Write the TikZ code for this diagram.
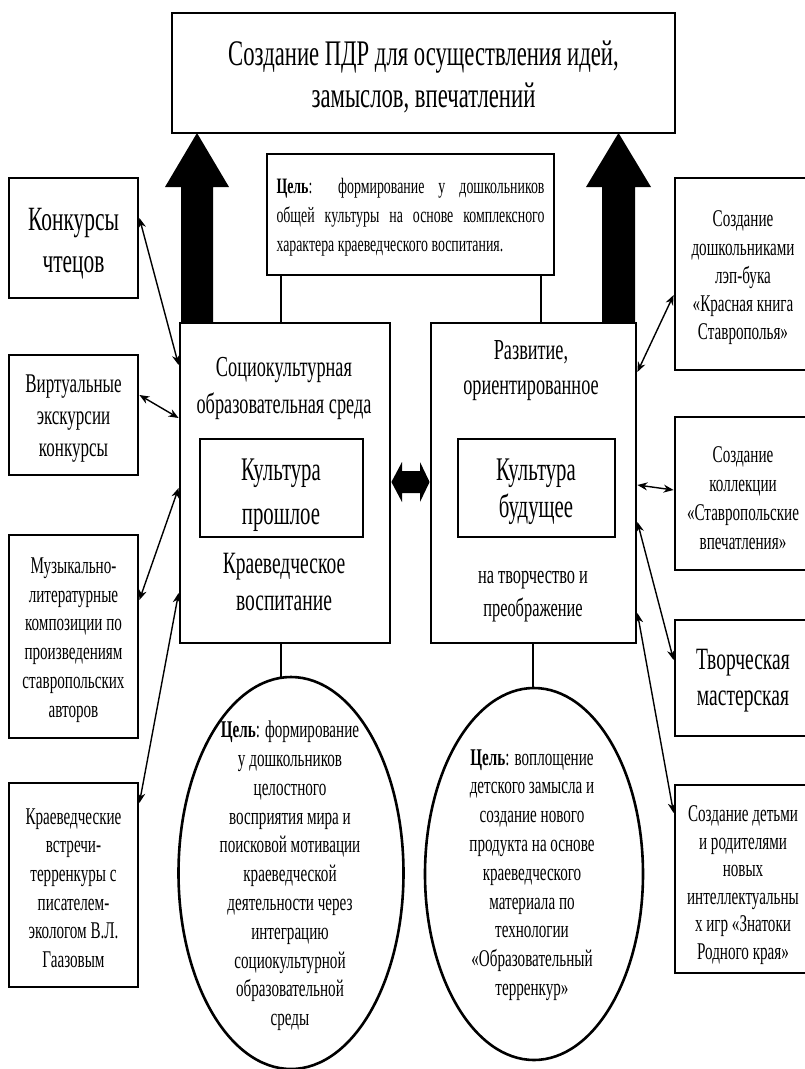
\documentclass[tikz,border=0pt]{standalone}
\usepackage{fontspec}
\setmainfont{Liberation Serif}[FakeStretch=0.63]
\usetikzlibrary{arrows.meta,calc,shapes.geometric}
\begin{document}
\begin{tikzpicture}[x=1pt,y=-1pt,
  box/.style={draw, line width=2.8pt, rectangle, inner sep=0pt},
  oval/.style={draw, line width=2.6pt, ellipse, inner sep=0pt},
  txt/.style={align=center, inner sep=0pt},
  small/.style={txt, font=\fontsize{24}{28.8}\selectfont},
  conn/.style={line width=1.4pt, {Stealth[length=10pt,width=8pt]}-{Stealth[length=10pt,width=8pt]}},
  link/.style={line width=2pt},
  block/.style={fill=black}]
\useasboundingbox (0,0) rectangle (805,1069);
\clip (0,0) rectangle (805,1069);

% title
\node[box, minimum width=503pt, minimum height=120pt] (title) at (423.5,73) {};
\node[txt, font=\fontsize{36}{42}\selectfont] (titlet) at (423.5,77) {Создание ПДР для осуществления идей,\\замыслов, впечатлений};

% goal box
\node[box, minimum width=287pt, minimum height=121pt] (goal) at (410.5,214.5) {};
\node[txt, align=left, font=\fontsize{22}{29}\selectfont] (goalt) at (410.5,217) {\makebox[268pt][s]{\textbf{Цель}: формирование у дошкольников}\\\makebox[268pt][s]{общей культуры на основе комплексного}\\характера краеведческого воспитания.};

% main boxes
\node[box, minimum width=210pt, minimum height=320pt] (left) at (285,483) {};
\node[box, minimum width=205pt, minimum height=320pt] (right) at (533.5,483) {};
\node[box, minimum width=163pt, minimum height=98pt] (lin) at (281.5,488) {};
\node[box, minimum width=157pt, minimum height=98pt] (rin) at (536.5,488) {};

\node[txt, font=\fontsize{29}{37}\selectfont] (lt1) at (284,388.5) {Социокультурная\\образовательная среда};
\node[txt, font=\fontsize{33}{44}\selectfont] (lt2) at (281,495) {Культура\\прошлое};
\node[txt, font=\fontsize{31}{37}\selectfont] (lt3) at (284,581.5) {Краеведческое\\воспитание};
\node[txt, font=\fontsize{29}{35}\selectfont] (rt1) at (531,370.5) {Развитие,\\ориентированное};
\node[txt, font=\fontsize{33}{37}\selectfont] (rt2) at (536,491.5) {Культура\\будущее};
\node[txt, font=\fontsize{26}{33}\selectfont] (rt3) at (533,596.5) {на творчество и\\преображение};

% big arrows
\fill[block] (181,323) -- (181,187) -- (165,187) -- (197,133) -- (229,187) -- (213,187) -- (213,323) -- cycle;
\fill[block] (602,323) -- (602,187) -- (586,187) -- (618.5,133) -- (651,187) -- (635,187) -- (635,323) -- cycle;

% double arrow between main boxes
\fill[block] (left.east |- 0,482) -- (402,462) -- (402,471) -- (420,471) -- (420,462) -- (right.west |- 0,482) -- (420,502) -- (420,493) -- (402,493) -- (402,502) -- cycle;

% goal links
\coordinate (g1) at (281,275);
\coordinate (g2) at (541,275);
\draw[link] (g1) -- (g1 |- left.north);
\draw[link] (g2) -- (g2 |- right.north);

% left side boxes
\node[box, minimum width=129pt, minimum height=120pt] (b1) at (73.5,238) {};
\node[txt, font=\fontsize{34}{42}\selectfont] (b1t) at (73.5,244) {Конкурсы\\чтецов};
\node[box, minimum width=129pt, minimum height=120pt] (b2) at (73.5,415) {};
\node[txt, font=\fontsize{27}{32}\selectfont] (b2t) at (73.5,419) {Виртуальные\\экскурсии\\конкурсы};
\node[box, minimum width=129pt, minimum height=203pt] (b3) at (73.5,636.5) {};
\node[small] (b3t) at (73.5,640) {Музыкально-\\литературные\\композиции по\\произведениям\\ставропольских\\авторов};
\node[box, minimum width=129pt, minimum height=204pt] (b4) at (73.5,885) {};
\node[small, font=\fontsize{24}{28.6}\selectfont] (b4t) at (73.5,888) {Краеведческие\\встречи-\\терренкуры с\\писателем-\\экологом В.Л.\\Гаазовым};

% right side boxes
\node[box, minimum width=137pt, minimum height=192pt] (r1) at (743.5,274) {};
\node[small, font=\fontsize{24}{28.3}\selectfont] (r1t) at (743,278) {Создание\\дошкольниками\\лэп-бука\\«Красная книга\\Ставрополья»};
\node[box, minimum width=137pt, minimum height=153pt] (r2) at (743.5,493.5) {};
\node[small] (r2t) at (743,498) {Создание\\коллекции\\«Ставропольские\\впечатления»};
\node[box, minimum width=137pt, minimum height=116pt] (r3) at (743.5,678) {};
\node[txt, font=\fontsize{31}{36}\selectfont] (r3t) at (743,681) {Творческая\\мастерская};
\node[box, minimum width=137pt, minimum height=188pt] (r4) at (743.5,879) {};
\node[small, font=\fontsize{24}{27.5}\selectfont] (r4t) at (743,885) {Создание детьми\\и родителями\\новых\\интеллектуальны\\х игр «Знатоки\\Родного края»};

% ellipses
\node[oval, minimum width=225pt, minimum height=392pt] (le) at (291,873) {};
\node[small] (let) at (290,876) {\textbf{Цель}: формирование\\у дошкольников\\целостного\\восприятия мира и\\поисковой мотивации\\краеведческой\\деятельности через\\интеграцию\\социокультурной\\образовательной\\среды};
\node[oval, minimum width=218pt, minimum height=372pt] (re) at (534,874) {};
\node[small] (ret) at (532,875) {\textbf{Цель}: воплощение\\детского замысла и\\создание нового\\продукта на основе\\краеведческого\\материала по\\технологии\\«Образовательный\\терренкур»};

\coordinate (m1) at (281,643);
\coordinate (m2) at (533,643);
\draw[link] (m1) -- (281,678);
\draw[link] (m2) -- (533,688);

% connectors left
\draw[conn] (b1.east |- 0,218) -- (left.west |- 0,365);
\draw[conn] (b2.east |- 0,395) -- (left.west |- 0,418);
\draw[conn] (b3.east |- 0,600) -- (left.west |- 0,488);
\draw[conn] (b4.east |- 0,803) -- (left.west |- 0,593);
% connectors right
\draw[conn] (r1.west |- 0,295) -- (right.east |- 0,372);
\draw[conn] (r2.west |- 0,490) -- (right.east |- 0,485);
\draw[conn] (r3.west |- 0,660) -- (right.east |- 0,522);
\draw[conn] (r4.west |- 0,813) -- (right.east |- 0,613);
\end{tikzpicture}
\end{document}
